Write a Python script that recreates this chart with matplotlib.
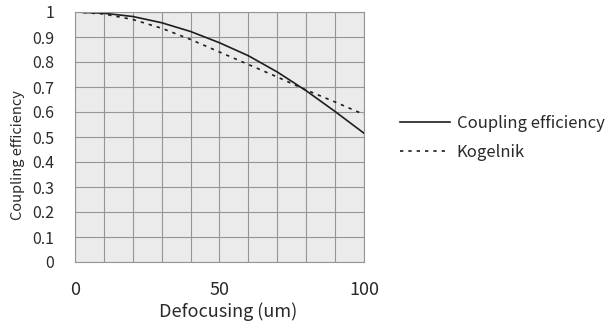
import matplotlib
matplotlib.use("Agg")
import matplotlib.pyplot as plt

defocus = [0, 10, 20, 30, 40, 50, 60, 70, 80, 90, 100]
coupling = [1.0, 0.995, 0.982, 0.957, 0.922, 0.877, 0.825, 0.76, 0.685, 0.602, 0.515]
kogelnik = [1.0, 0.992, 0.970, 0.935, 0.890, 0.840, 0.790, 0.740, 0.688, 0.640, 0.590]

xticks = [0, 50, 100]
yticks = [0, 0.1, 0.2, 0.3, 0.4, 0.5, 0.6, 0.7, 0.8, 0.9, 1]
ytick_labels = ["0", "0.1", "0.2", "0.3", "0.4", "0.5", "0.6", "0.7", "0.8", "0.9", "1"]

plt.rcParams['font.family'] = ['Noto Sans CJK JP', 'DejaVu Sans']
txt = "#2a2a2a"

W, H = 606, 328
fig = plt.figure(figsize=(W/100, H/100), dpi=100)
ax = fig.add_axes([75/W, 1-262/H, 289/W, 250/H])
ax.set_facecolor("#ebebeb")

ax.plot(defocus, coupling, color="#1e1e1e", lw=1.2, label="Coupling efficiency")
ax.plot(defocus, kogelnik, color="#1e1e1e", lw=1.2, ls=(0, (2, 3)), label="Kogelnik")

ax.set_xlim(0, 100)
ax.set_ylim(0, 1)
ax.set_xticks(range(0, 101, 10), minor=True)
ax.set_xticks(xticks)
ax.set_yticks(yticks)
ax.set_yticklabels(ytick_labels)
ax.grid(True, which="both", color="#959595", lw=0.8)
ax.set_axisbelow(True)
ax.tick_params(which="both", length=0, colors=txt)
ax.tick_params(axis="y", pad=15, labelsize=11.5)
ax.tick_params(axis="x", pad=14, labelsize=13)
for s in ax.spines.values():
    s.set_color("#959595")
    s.set_linewidth(0.8)

fig.text(228/W, 1-312/H, "Defocusing (um)", color=txt, fontsize=13,
         ha="center", va="center")
fig.text(18/W, 1-155/H, "Coupling efficiency", color=txt, fontsize=10.5,
         ha="center", va="center", rotation=90)

fig.legend(loc="center left", bbox_to_anchor=(385/W, 1-138/H), frameon=False,
           fontsize=12, handlelength=3.0, handletextpad=0.4, labelspacing=0.7,
           labelcolor=txt)

fig.savefig("out.png", dpi=100)
